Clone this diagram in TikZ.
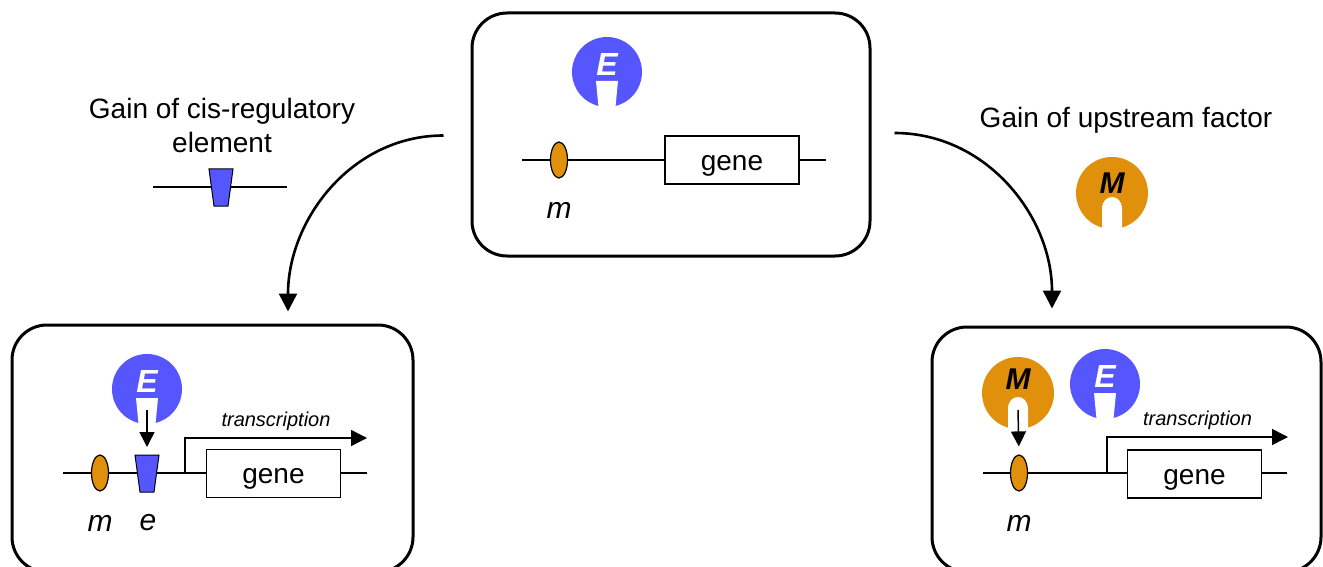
\documentclass[tikz,border=0pt]{standalone}
\usepackage{fontspec}
\setmainfont{Liberation Sans}
\usetikzlibrary{arrows.meta,shapes.geometric,positioning}

\definecolor{factorblue}{RGB}{86,86,255}
\definecolor{factororange}{RGB}{224,144,10}

\tikzset{
	panel/.style={draw,rectangle,rounded corners=17.5pt,line width=1.5pt},
	dna/.style={line width=0.75pt},
	genebox/.style={draw,rectangle,fill=white,line width=0.75pt,minimum width=67pt,minimum height=24pt,inner sep=0pt,text height=10pt,text depth=0pt,font=\fontsize{14}{14}\selectfont},
	siteM/.style={draw,ellipse,fill=factororange,line width=0.6pt,minimum width=8.5pt,minimum height=18pt,inner sep=0pt},
	factorE/.style={circle,fill=factorblue,minimum size=35pt,inner sep=0pt},
	factorM/.style={circle,fill=factororange,minimum size=36pt,inner sep=0pt},
	factortext/.style={font=\bfseries\itshape\fontsize{16}{16}\selectfont},
	sitelabel/.style={font=\itshape\fontsize{15}{15}\selectfont},
	heading/.style={align=center,font=\fontsize{14}{17}\selectfont},
	bigarrow/.style={line width=1.3pt,-{Triangle[length=9pt,width=9pt]}},
	bindarrow/.style={line width=0.75pt,-{Triangle[length=7.5pt,width=7.5pt]}},
	txarrow/.style={line width=0.75pt,-{Triangle[length=8pt,width=8pt]}},
	cisel/.pic={
		\draw[fill=factorblue,line width=0.5pt] (-12,-18.5) -- (12,-18.5) -- (7,18.5) -- (-7,18.5) -- cycle;
		\coordinate (-top) at (0,-18.5);
	}
}

% white cut-outs at the bottom of the factors
\newcommand{\notchE}[1]{
	\fill[white] ([shift={(-5.5pt,-4.5pt)}]#1.center) -- ([shift={(5.5pt,-4.5pt)}]#1.center)
		-- ([shift={(4pt,-20pt)}]#1.center) -- ([shift={(-4pt,-20pt)}]#1.center) -- cycle;
}
\newcommand{\notchM}[1]{
	\fill[white] ([shift={(-5pt,-20pt)}]#1.center) -- ([shift={(-5pt,-8pt)}]#1.center)
		.. controls ([shift={(-5pt,0pt)}]#1.center) and ([shift={(5pt,0pt)}]#1.center) .. ([shift={(5pt,-8pt)}]#1.center)
		-- ([shift={(5pt,-20pt)}]#1.center) -- cycle;
}

\begin{document}
\begin{tikzpicture}[x=0.5pt,y=-0.5pt]
	\useasboundingbox (0,0) rectangle (1323,567);

	% panels
	\node[panel,minimum width=199pt,minimum height=121.5pt] (topbox) at (671,134.5) {};
	\node[panel,minimum width=200.5pt,minimum height=123.5pt] (leftbox) at (212.5,448.5) {};
	\node[panel,minimum width=194.5pt,minimum height=122.5pt] (rightbox) at (1126.5,449.5) {};

	% top panel
	\draw[dna] (522,160) -- (826,160);
	\node[siteM] (mtop) at (559,160) {};
	\node[genebox] (genetop) at (732,160) {gene};
	\node[sitelabel] (mlabtop) at (559,210) {m};
	\node[factorE] (Etop) at (607,72) {};
	\notchE{Etop}
	\node[factortext,white] at ([yshift=4pt]Etop.center) {E};

	% left: gain of cis-regulatory element
	\node[heading] (headleft) at (222,125) {Gain of cis-regulatory\\element};
	\draw[dna] (153,187) -- (287,187);
	\pic (enew) at (221,187.5) {cisel};

	% right: gain of upstream factor
	\node[heading] (headright) at (1126,120) {Gain of upstream factor};
	\node[factorM] (Mnew) at (1112,193) {};
	\notchM{Mnew}
	\node[factortext,font=\bfseries\itshape\fontsize{15}{15}\selectfont] at ([yshift=5pt]Mnew.center) {M};

	% bottom left panel
	\draw[dna] (63,473) -- (367,473);
	\node[siteM] (mleft) at (100,473) {};
	\pic (eleft) at (147,473.5) {cisel};
	\node[genebox] (geneleft) at (273.5,473.5) {gene};
	\node[sitelabel] (mlableft) at (100,523) {m};
	\node[sitelabel] (elableft) at (148,523) {e};
	\node[factorE] (Eleft) at (147,389) {};
	\notchE{Eleft}
	\node[factortext,white] at ([yshift=4pt]Eleft.center) {E};
	\draw[bindarrow,shorten >=4pt] ([yshift=-10.5pt]Eleft.center) -- (eleft-top);
	\draw[txarrow] (185,473) |- node[pos=0.75,above,font=\itshape\fontsize{10}{10}\selectfont] {transcription} (367,438);

	% bottom right panel
	\draw[dna] (983,473) -- (1287,473);
	\node[siteM] (mright) at (1019,473) {};
	\node[genebox] (generight) at (1194.5,474) {gene};
	\node[sitelabel] (mlabright) at (1019,523) {m};
	\node[factorM] (Mright) at (1018,393) {};
	\notchM{Mright}
	\node[factortext,font=\bfseries\itshape\fontsize{15}{15}\selectfont] at ([yshift=7pt]Mright.center) {M};
	\node[factorE] (Eright) at (1105,384) {};
	\notchE{Eright}
	\node[factortext,white] at ([yshift=4pt]Eright.center) {E};
	\draw[bindarrow,shorten >=4pt] ([yshift=-8.5pt]Mright.center) -- (mright.north);
	\draw[txarrow] (1107,473) |- node[pos=0.75,above,font=\itshape\fontsize{10}{10}\selectfont] {transcription} (1288,437);

	% evolution arrows
	\draw[bigarrow] ([xshift=-13.5pt,yshift=-0.5pt]topbox.west) to[out=180,in=90] ([xshift=37.75pt,yshift=6pt]leftbox.north);
	\draw[bigarrow] ([xshift=11.5pt,yshift=0.75pt]topbox.east) to[out=0,in=90] ([xshift=-37.25pt,yshift=8.5pt]rightbox.north);
\end{tikzpicture}
\end{document}
